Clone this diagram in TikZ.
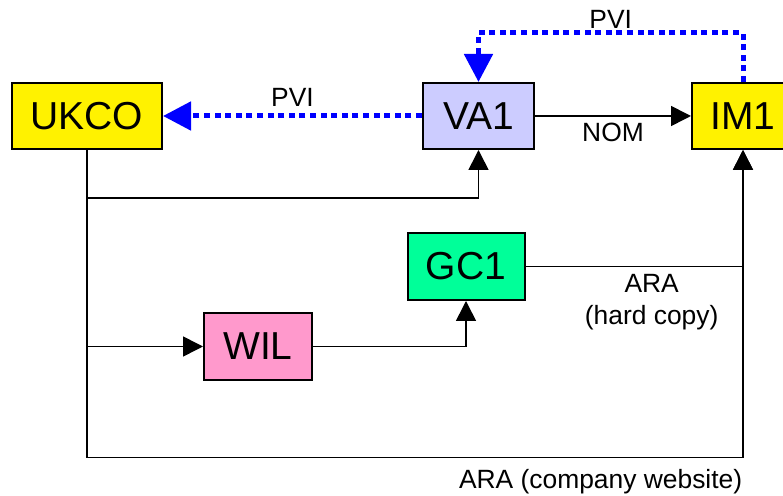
\documentclass[tikz,border=0pt]{standalone}
\usepackage{fontspec}
\setmainfont{Liberation Sans}
\usetikzlibrary{arrows.meta}

\definecolor{lavender}{HTML}{CCCCFF}
\definecolor{mint}{HTML}{00FF99}
\definecolor{rose}{HTML}{FF99CC}

\begin{document}
\begin{tikzpicture}[x=0.5pt,y=-0.5pt,
  box/.style={draw,line width=1pt,inner sep=0pt,minimum height=33pt,font=\fontsize{19.5}{22}\selectfont},
  lbl/.style={font=\fontsize{13.2}{16}\selectfont,align=center},
  flow/.style={line width=0.8pt,-{Triangle[length=10pt,width=10pt]}},
  pvi/.style={blue,line width=2.5pt,dash pattern=on 3pt off 2.3pt,-{Triangle[length=14pt,width=14pt]}}]
\useasboundingbox (0,0) rectangle (783,496);
\clip (0,0) rectangle (783,496);
% boxes
\node [box,fill=yellow,minimum width=75pt] (ukco) at (87,116) {UKCO};
\node [box,fill=lavender,minimum width=55.5pt] (va) at (478.5,116) {VA1};
\node [box,fill=yellow,minimum width=51pt] (im) at (743,116) {IM1};
\node [box,fill=mint,minimum width=58.5pt,minimum height=33.5pt] (gc) at (466,266.5) {GC1};
\node [box,fill=rose,minimum width=54pt,minimum height=33.5pt] (wil) at (258,346.5) {WIL};
% dotted PVI links
\draw [pvi] (va.west) -- node [lbl,above,black] {PVI} (ukco.east);
\draw [pvi] (im.north) -- ++(0,-49) -| node [lbl,above,black,pos=0.25,yshift=-2.5pt] {PVI} (va.north);
% solid links
\draw [flow] (va.east) -- node [lbl,below] {NOM} (im.west);
\draw [flow] (ukco.south) -- ++(0,48) -| (va.south);
\draw [flow] (ukco.south) |- (wil.west);
\draw [flow] (wil.east) -| (gc.south);
\draw [flow] (gc.east) -| node [lbl,below,pos=0.29] {ARA\\(hard copy)} (im.south);
\draw [flow] (ukco.south) -- ++(0,307.7) -| node [lbl,pos=0.5,anchor=north east,inner xsep=0pt,yshift=-2pt] {ARA (company website)} (im.south);
\end{tikzpicture}
\end{document}
